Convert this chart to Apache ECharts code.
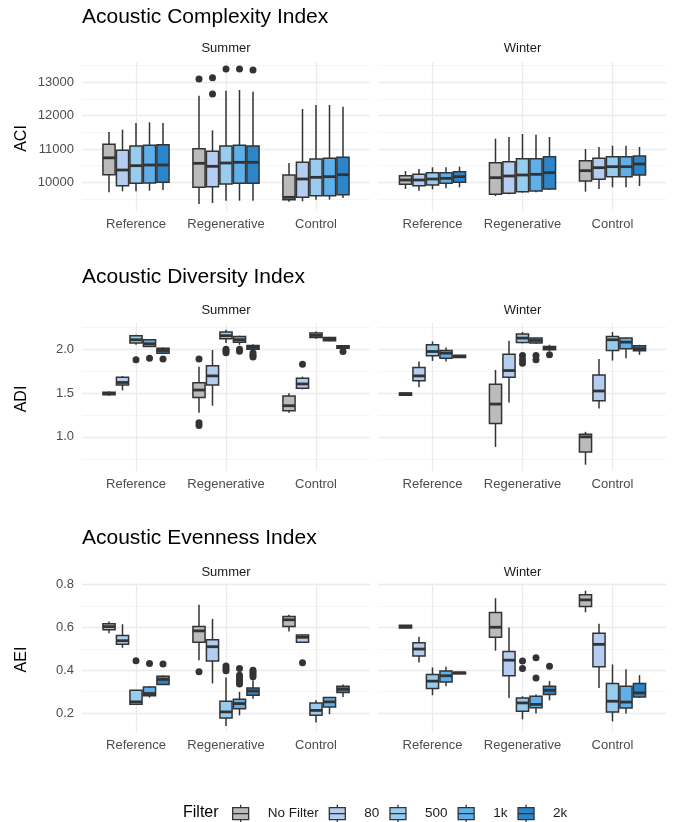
<!DOCTYPE html>
<html>
<head>
<meta charset="utf-8">
<title>Acoustic indices by filter</title>
<script src="https://cdn.jsdelivr.net/npm/echarts@6/dist/echarts.min.js"></script>
<style>
  html, body { margin: 0; background: #fff; }
  #chart { width: 676px; height: 822px; }
</style>
</head>
<body>
<div id="chart"></div>
<script>
const categories = ['Reference', 'Regenerative', 'Control'];
const filters = ['No Filter', '80', '500', '1k', '2k'];
const seasons = ['Summer', 'Winter'];

// box stats per filter, per category: [lower whisker, Q1, median, Q3, upper whisker]
const aciSummer = [
  [[9700, 10230, 10735, 11140, 11510], [9350, 9850, 10570, 11010, 12600], [9420, 9480, 9550, 10220, 10580]],
  [[9730, 9900, 10370, 10960, 11580], [9380, 9870, 10480, 10930, 11560], [9430, 9550, 10100, 10600, 12200]],
  [[9730, 9970, 10500, 11090, 11780], [9450, 9950, 10580, 11090, 12750], [9480, 9600, 10150, 10700, 12320]],
  [[9750, 9980, 10520, 11110, 11800], [9450, 9970, 10600, 11110, 12770], [9480, 9600, 10170, 10720, 12320]],
  [[9770, 10000, 10520, 11130, 11780], [9450, 9970, 10600, 11090, 12720], [9530, 9630, 10230, 10750, 12270]]
];
const aciWinter = [
  [[9800, 9940, 10070, 10200, 10340], [9590, 9640, 10140, 10590, 11310], [9720, 10040, 10350, 10650, 11000]],
  [[9750, 9900, 10070, 10240, 10400], [9640, 9670, 10190, 10620, 11360], [9800, 10090, 10440, 10720, 11060]],
  [[9790, 9920, 10100, 10290, 10450], [9690, 9720, 10220, 10710, 11450], [9850, 10170, 10470, 10770, 11100]],
  [[9820, 9970, 10120, 10290, 10450], [9700, 9740, 10240, 10710, 11430], [9850, 10170, 10470, 10770, 11100]],
  [[9850, 10000, 10170, 10320, 10470], [9770, 9800, 10290, 10770, 11360], [9890, 10220, 10550, 10790, 11060]]
];
const adiSummer = [
  [[1.47, 1.48, 1.495, 1.51, 1.52], [1.275, 1.45, 1.534, 1.618, 1.80], [1.275, 1.298, 1.355, 1.466, 1.496]],
  [[1.53, 1.59, 1.62, 1.68, 1.695], [1.355, 1.59, 1.695, 1.81, 1.99], [1.542, 1.553, 1.603, 1.668, 1.687]],
  [[2.05, 2.069, 2.107, 2.153, 2.164], [2.07, 2.118, 2.153, 2.195, 2.221], [2.118, 2.134, 2.156, 2.183, 2.20]],
  [[2.023, 2.03, 2.061, 2.107, 2.115], [2.05, 2.08, 2.107, 2.145, 2.153], [2.09, 2.095, 2.115, 2.134, 2.14]],
  [[1.95, 1.954, 1.985, 2.011, 2.018], [1.995, 2.0, 2.023, 2.042, 2.057], [2.0, 2.011, 2.023, 2.038, 2.04]]
];
const adiWinter = [
  [[1.47, 1.474, 1.49, 1.50, 1.505], [0.885, 1.153, 1.374, 1.60, 1.763], [0.683, 0.828, 1.0, 1.03, 1.057]],
  [[1.565, 1.641, 1.695, 1.79, 1.859], [1.393, 1.679, 1.756, 1.943, 2.095], [1.324, 1.412, 1.523, 1.706, 1.889]],
  [[1.866, 1.924, 1.973, 2.05, 2.088], [2.065, 2.076, 2.126, 2.172, 2.195], [1.87, 1.985, 2.107, 2.145, 2.195]],
  [[1.859, 1.897, 1.954, 1.985, 2.019], [2.06, 2.069, 2.099, 2.126, 2.134], [1.897, 2.004, 2.08, 2.126, 2.134]],
  [[1.90, 1.905, 1.916, 1.93, 1.935], [1.98, 1.992, 2.011, 2.03, 2.05], [1.935, 1.981, 2.004, 2.038, 2.05]]
];
const aeiSummer = [
  [[0.573, 0.589, 0.604, 0.617, 0.628], [0.447, 0.531, 0.584, 0.604, 0.706], [0.581, 0.604, 0.636, 0.651, 0.659]],
  [[0.505, 0.521, 0.538, 0.562, 0.615], [0.338, 0.443, 0.51, 0.542, 0.64], [0.528, 0.531, 0.554, 0.565, 0.568]],
  [[0.241, 0.241, 0.252, 0.306, 0.306], [0.139, 0.176, 0.205, 0.255, 0.366], [0.155, 0.189, 0.212, 0.247, 0.259]],
  [[0.272, 0.28, 0.291, 0.322, 0.326], [0.189, 0.22, 0.244, 0.264, 0.299], [0.194, 0.228, 0.252, 0.272, 0.275]],
  [[0.333, 0.333, 0.357, 0.372, 0.376], [0.267, 0.283, 0.303, 0.317, 0.353], [0.275, 0.296, 0.311, 0.325, 0.333]]
];
const aeiWinter = [
  [[0.596, 0.598, 0.604, 0.61, 0.612], [0.491, 0.554, 0.601, 0.670, 0.737], [0.671, 0.698, 0.729, 0.753, 0.772]],
  [[0.436, 0.466, 0.499, 0.529, 0.557], [0.27, 0.374, 0.447, 0.487, 0.60], [0.317, 0.416, 0.521, 0.573, 0.617]],
  [[0.283, 0.314, 0.349, 0.38, 0.413], [0.17, 0.208, 0.247, 0.27, 0.278], [0.161, 0.204, 0.255, 0.338, 0.427]],
  [[0.325, 0.345, 0.374, 0.396, 0.416], [0.197, 0.225, 0.24, 0.278, 0.286], [0.197, 0.223, 0.251, 0.325, 0.405]],
  [[0.383, 0.383, 0.388, 0.39, 0.39], [0.259, 0.286, 0.306, 0.325, 0.349], [0.27, 0.275, 0.294, 0.338, 0.377]]
];

// outliers per filter: [category index, value]
const aciSummerOut = [[[1, 13100]], [[1, 13140], [1, 12650]], [[1, 13400]], [[1, 13400]], [[1, 13370]]];
const aciWinterOut = [[], [], [], [], []];
const adiSummerOut = [
  [[1, 1.889], [1, 1.16], [1, 1.13]],
  [[2, 1.828]],
  [[0, 1.878], [1, 2.0], [1, 1.98], [1, 1.96]],
  [[0, 1.897], [1, 2.0], [1, 1.975]],
  [[0, 1.889], [1, 1.955], [1, 1.93], [1, 1.91], [2, 1.973]]
];
const adiWinterOut = [[], [], [[1, 1.927], [1, 1.878], [1, 1.84]], [[1, 1.927], [1, 1.878]], [[1, 1.935]]];
const aeiSummerOut = [
  [[1, 0.393]],
  [[2, 0.435]],
  [[0, 0.444], [1, 0.42], [1, 0.408], [1, 0.397]],
  [[0, 0.432], [1, 0.408], [1, 0.377], [1, 0.365], [1, 0.355], [1, 0.345], [1, 0.335]],
  [[0, 0.429], [1, 0.40], [1, 0.39], [1, 0.38], [1, 0.37]]
];
const aeiWinterOut = [[], [], [[1, 0.443], [1, 0.408]], [[1, 0.458], [1, 0.364]], [[1, 0.419]]];

const fills = ['#bbbbbb', '#b5cdf0', '#98ccee', '#5fb0ea', '#2a85cb'];
const FONT = '"Liberation Sans", Arial, Helvetica, sans-serif';
const INK = '#333333';

const rows = [
  { title: 'Acoustic Complexity Index', name: 'ACI', titleY: 17, stripY: 48, top: 62, height: 149,
    min: 9140, max: 13610, step: 1000, digits: 0, boxes: [aciSummer, aciWinter], outs: [aciSummerOut, aciWinterOut] },
  { title: 'Acoustic Diversity Index', name: 'ADI', titleY: 277, stripY: 310, top: 323, height: 148,
    min: 0.611, max: 2.298, step: 0.5, digits: 1, boxes: [adiSummer, adiWinter], outs: [adiSummerOut, adiWinterOut] },
  { title: 'Acoustic Evenness Index', name: 'AEI', titleY: 538, stripY: 572, top: 583, height: 149,
    min: 0.111, max: 0.808, step: 0.2, digits: 1, boxes: [aeiSummer, aeiWinter], outs: [aeiSummerOut, aeiWinterOut] }
];
const colLeft = [82, 378.5];
const panelW = 288;     // x range 0.4 .. 3.6
const unit = 90;        // px per category

const gridLine = { color: '#ebebeb', width: 1.3 };
const minorLine = { color: '#f3f3f3', width: 0.8 };

const grid = [], xAxis = [], yAxis = [], series = [], graphic = [];

function boxRenderer(fill) {
  return function (params, api) {
    const x = api.value(0);
    const lo = api.coord([x, api.value(1)]);
    const q1 = api.coord([x, api.value(2)]);
    const md = api.coord([x, api.value(3)]);
    const q3 = api.coord([x, api.value(4)]);
    const hi = api.coord([x, api.value(5)]);
    const w = api.size([0.135, 0])[0];
    const cx = q1[0];
    const line = { stroke: INK, lineWidth: 1.5 };
    return {
      type: 'group',
      children: [
        { type: 'line', shape: { x1: cx, y1: hi[1], x2: cx, y2: q3[1] }, style: line },
        { type: 'line', shape: { x1: cx, y1: q1[1], x2: cx, y2: lo[1] }, style: line },
        { type: 'rect', shape: { x: cx - w / 2, y: q3[1], width: w, height: Math.max(q1[1] - q3[1], 0.5) },
          style: { fill: fill, stroke: INK, lineWidth: 1.5 } },
        { type: 'line', shape: { x1: cx - w / 2, y1: md[1], x2: cx + w / 2, y2: md[1] },
          style: { stroke: INK, lineWidth: 2.8 } }
      ]
    };
  };
}

rows.forEach((row, r) => {
  graphic.push({ type: 'text', x: 82, y: row.titleY,
    style: { text: row.title, font: '21px ' + FONT, fill: '#000', textAlign: 'left', textVerticalAlign: 'middle' } });
  graphic.push({ type: 'text', x: 22, y: row.top + row.height / 2 + 2, rotation: Math.PI / 2,
    style: { text: row.name, font: '16px ' + FONT, fill: '#000', textAlign: 'center', textVerticalAlign: 'middle' } });

  seasons.forEach((season, c) => {
    const left = colLeft[c];
    graphic.push({ type: 'text', x: left + panelW / 2, y: row.stripY,
      style: { text: season, font: '13px ' + FONT, fill: '#1a1a1a', textAlign: 'center', textVerticalAlign: 'middle' } });

    const gi = grid.length;
    // panel grid: horizontal gridlines, y labels, boxes
    grid.push({ left: left, top: row.top, width: panelW, height: row.height });
    xAxis.push({ gridIndex: gi, type: 'value', min: 0.4, max: 3.6, show: false });
    yAxis.push({
      gridIndex: gi, type: 'value', min: row.min, max: row.max,
      splitNumber: 4, minInterval: row.step, maxInterval: row.step,
      axisLine: { show: false }, axisTick: { show: false },
      axisLabel: { show: c === 0, showMinLabel: false, showMaxLabel: false, fontSize: 13,
        color: '#4d4d4d', fontFamily: FONT, margin: 8,
        formatter: v => Number(v).toFixed(row.digits) },
      splitLine: { show: true, showMinLine: false, showMaxLine: false, lineStyle: gridLine },
      minorTick: { show: false, splitNumber: 2 },
      minorSplitLine: { show: true, lineStyle: minorLine }
    });
    // category grid: vertical gridlines and category labels
    grid.push({ left: left + 0.6 * unit, top: row.top, width: 2 * unit, height: row.height });
    xAxis.push({
      gridIndex: gi + 1, type: 'category', data: categories, boundaryGap: false,
      axisLine: { show: false }, axisTick: { show: false },
      axisLabel: { interval: 0, fontSize: 13, color: '#4d4d4d', fontFamily: FONT, margin: 7 },
      splitLine: { show: true, lineStyle: gridLine }
    });
    yAxis.push({ gridIndex: gi + 1, type: 'value', min: row.min, max: row.max, show: false });

    filters.forEach((f, k) => {
      const dodge = (k - 2) * 0.15;
      series.push({
        name: f, type: 'custom', xAxisIndex: gi, yAxisIndex: gi, z: 3,
        itemStyle: { color: fills[k] },
        encode: { x: 0, y: [1, 2, 3, 4, 5] },
        renderItem: boxRenderer(fills[k]),
        data: row.boxes[c][k].map((s, i) => [i + 1 + dodge].concat(s))
      });
      if (row.outs[c][k].length) {
        series.push({
          type: 'scatter', xAxisIndex: gi, yAxisIndex: gi, z: 4,
          symbol: 'circle', symbolSize: 7, itemStyle: { color: INK, opacity: 1 },
          data: row.outs[c][k].map(p => [p[0] + 1 + dodge, p[1]])
        });
      }
    });
  });
});

graphic.push({ type: 'text', x: 183, y: 813,
  style: { text: 'Filter', font: '16px ' + FONT, fill: '#000', textAlign: 'left', textVerticalAlign: 'middle' } });

const keyIcon = 'path://M0,3H16V15H0Z M0,9H16 M8,0V3 M8,15V18';

const chart = echarts.init(document.getElementById('chart'), null, { renderer: 'canvas' });
chart.setOption({
  animation: false,
  backgroundColor: '#ffffff',
  textStyle: { fontFamily: FONT },
  grid: grid,
  xAxis: xAxis,
  yAxis: yAxis,
  graphic: graphic,
  legend: {
    data: filters.map(n => ({ name: n, icon: keyIcon })),
    left: 227, top: 799, padding: 5, itemWidth: 16, itemHeight: 18, itemGap: 10,
    selectedMode: false,
    itemStyle: { borderColor: INK, borderWidth: 1.3 },
    textStyle: { fontSize: 13.5, color: '#1a1a1a', fontFamily: FONT, padding: [0, 0, 0, 14] }
  },
  series: series
});
</script>
</body>
</html>
